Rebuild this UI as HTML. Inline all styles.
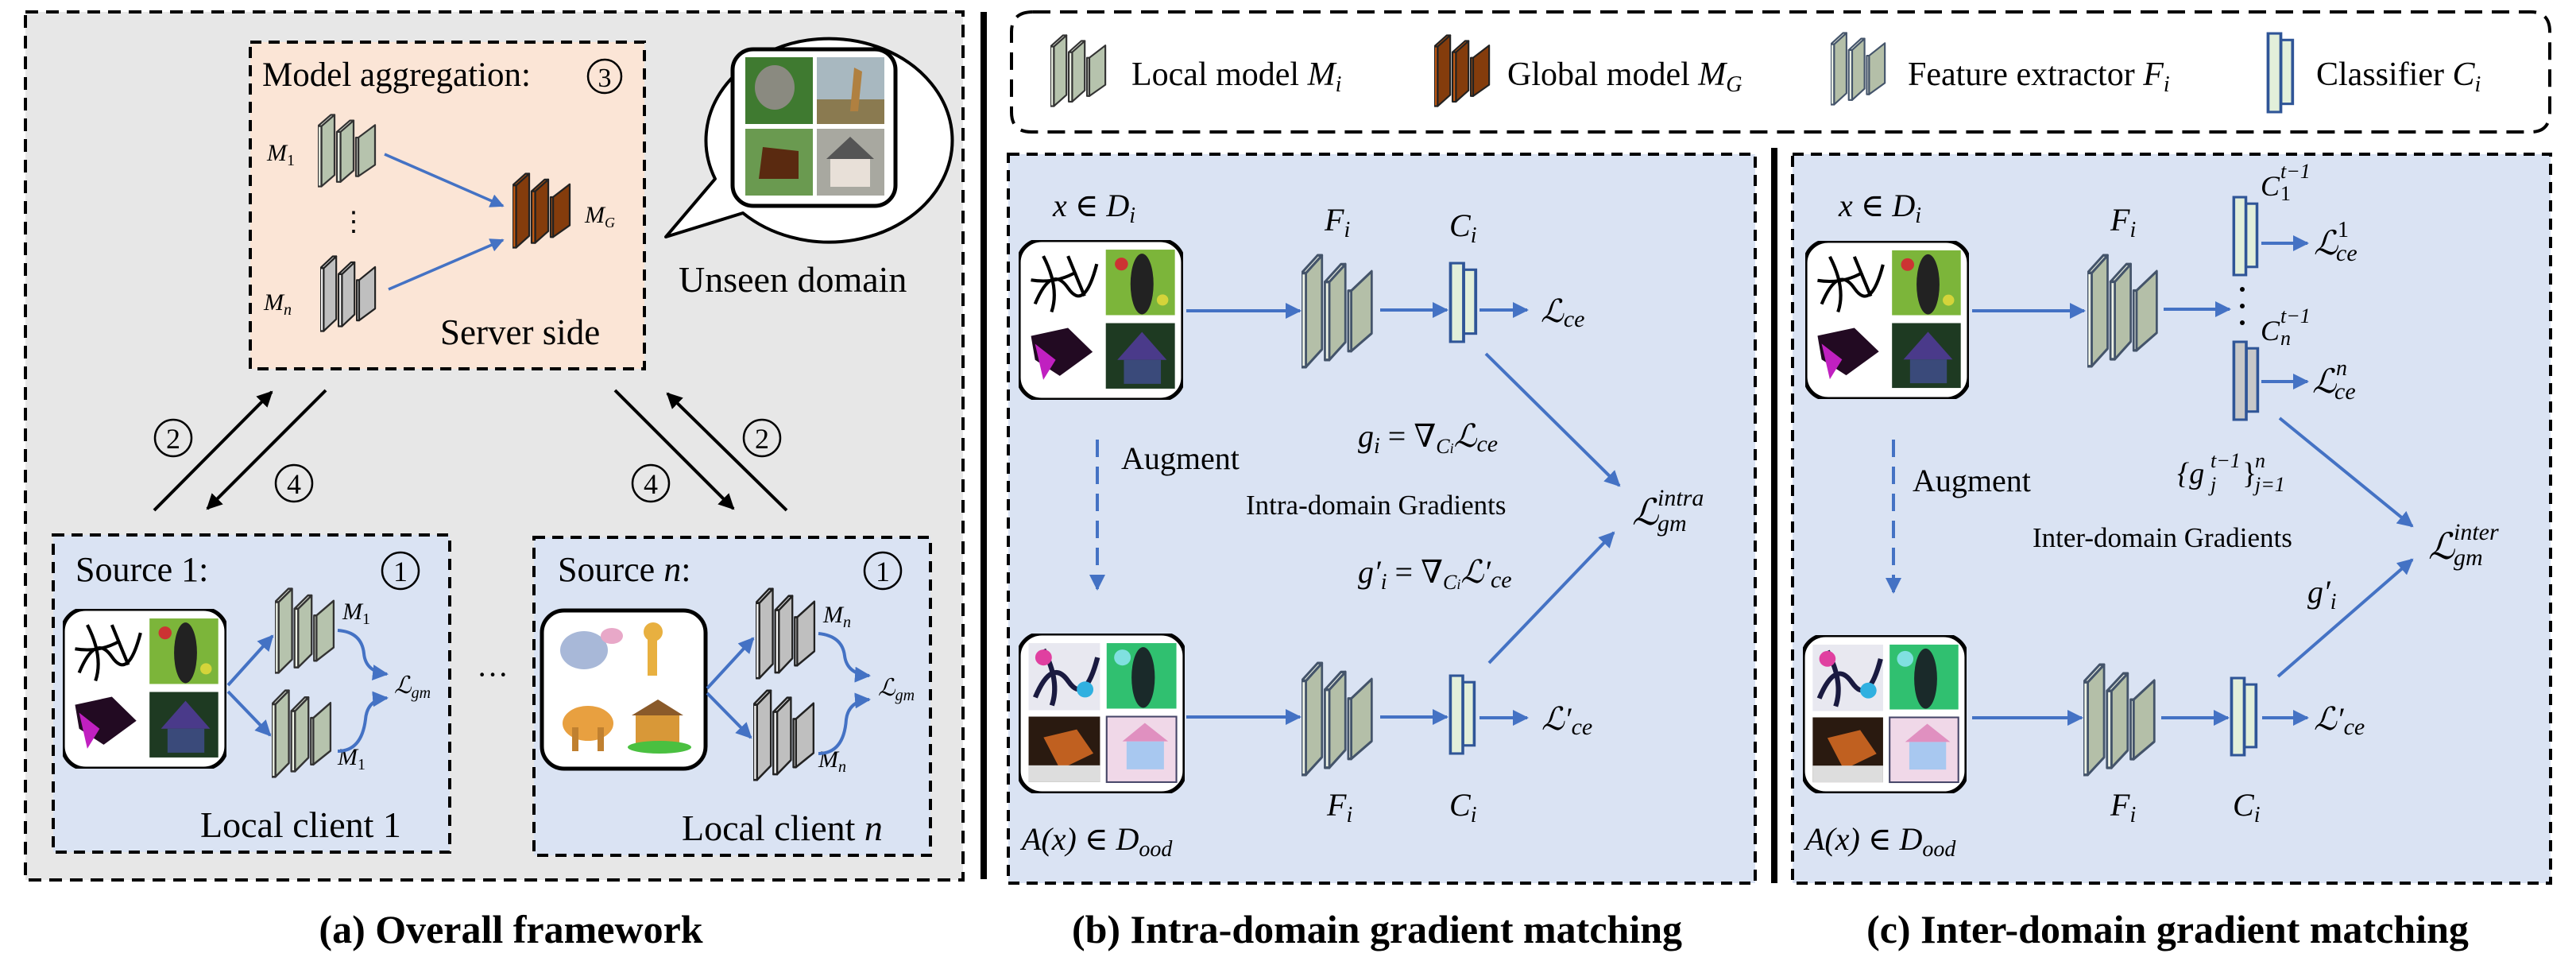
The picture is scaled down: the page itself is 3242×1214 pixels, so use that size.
<!DOCTYPE html>
<html><head><meta charset="utf-8"><style>
html,body{margin:0;padding:0;background:#fff}
svg{display:block}
text{font-family:"Liberation Serif","DejaVu Serif",serif;fill:#000}
.m{font-style:italic}
.t{font-weight:bold;font-size:50px}
</style></head><body>
<svg width="3242" height="1214" viewBox="0 0 3242 1214" xmlns="http://www.w3.org/2000/svg">
<defs>
<marker id="ab" viewBox="0 0 10 10" refX="9" refY="5" markerWidth="5" markerHeight="5" orient="auto" markerUnits="strokeWidth"><path d="M0,0L10,5L0,10z" fill="#4472c4"/></marker>
<marker id="ak" viewBox="0 0 10 10" refX="9" refY="5" markerWidth="5" markerHeight="5" orient="auto" markerUnits="strokeWidth"><path d="M0,0L10,5L0,10z" fill="#000"/></marker>
<symbol id="Lg" viewBox="0 0 100 130" preserveAspectRatio="none">
 <g stroke="#333" stroke-width="3" stroke-linejoin="round">
 <polygon points="6,22 28,2 28,108 6,128" fill="#b6c3ad"/><polygon points="0,22 22,2 28,2 6,22" fill="#eef3e6"/><rect x="0" y="22" width="6" height="106" fill="#eef3e6"/>
 <polygon points="38,32 60,12 60,100 38,120" fill="#b6c3ad"/><polygon points="32,32 54,12 60,12 38,32" fill="#eef3e6"/><rect x="32" y="32" width="6" height="88" fill="#eef3e6"/>
 <polygon points="68,42 96,20 96,90 68,110" fill="#b6c3ad"/><rect x="64" y="42" width="4" height="68" fill="#eef3e6"/>
 </g></symbol>
<symbol id="Lb" viewBox="0 0 100 130" preserveAspectRatio="none">
 <g stroke="#222" stroke-width="3" stroke-linejoin="round">
 <polygon points="6,22 28,2 28,108 6,128" fill="#843c0c"/><polygon points="0,22 22,2 28,2 6,22" fill="#c55a11"/><rect x="0" y="22" width="6" height="106" fill="#c55a11"/>
 <polygon points="38,32 60,12 60,100 38,120" fill="#843c0c"/><polygon points="32,32 54,12 60,12 38,32" fill="#c55a11"/><rect x="32" y="32" width="6" height="88" fill="#c55a11"/>
 <polygon points="68,42 96,20 96,90 68,110" fill="#843c0c"/><rect x="64" y="42" width="4" height="68" fill="#c55a11"/>
 </g></symbol>
<symbol id="Lw" viewBox="0 0 100 130" preserveAspectRatio="none">
 <g stroke="#222" stroke-width="3" stroke-linejoin="round">
 <polygon points="6,22 28,2 28,108 6,128" fill="#bfbfbf"/><polygon points="0,22 22,2 28,2 6,22" fill="#f4f4f4"/><rect x="0" y="22" width="6" height="106" fill="#f4f4f4"/>
 <polygon points="38,32 60,12 60,100 38,120" fill="#bfbfbf"/><polygon points="32,32 54,12 60,12 38,32" fill="#f4f4f4"/><rect x="32" y="32" width="6" height="88" fill="#f4f4f4"/>
 <polygon points="68,42 96,20 96,90 68,110" fill="#bfbfbf"/><rect x="64" y="42" width="4" height="68" fill="#f4f4f4"/>
 </g></symbol>
<symbol id="Lf" viewBox="0 0 100 130" preserveAspectRatio="none">
 <g stroke="#44546a" stroke-width="3" stroke-linejoin="round">
 <polygon points="6,22 28,2 28,108 6,128" fill="#b4bfa8"/><polygon points="0,22 22,2 28,2 6,22" fill="#eef3e6"/><rect x="0" y="22" width="6" height="106" fill="#eef3e6"/>
 <polygon points="38,32 60,12 60,100 38,120" fill="#b4bfa8"/><polygon points="32,32 54,12 60,12 38,32" fill="#eef3e6"/><rect x="32" y="32" width="6" height="88" fill="#eef3e6"/>
 <polygon points="68,42 96,20 96,90 68,110" fill="#b4bfa8"/><rect x="64" y="42" width="4" height="68" fill="#eef3e6"/>
 </g></symbol>
<symbol id="Cl" viewBox="0 0 30 100" preserveAspectRatio="none">
 <rect x="15" y="10" width="12" height="78" fill="#e2efda" stroke="#2f5597" stroke-width="3"/>
 <rect x="2" y="2" width="13" height="96" fill="#e2efda" stroke="#2f5597" stroke-width="3"/>
</symbol>
<symbol id="Cg" viewBox="0 0 30 100" preserveAspectRatio="none">
 <rect x="15" y="10" width="12" height="78" fill="#c8c8c8" stroke="#2f5597" stroke-width="3"/>
 <rect x="2" y="2" width="13" height="96" fill="#c8c8c8" stroke="#2f5597" stroke-width="3"/>
</symbol>
<symbol id="Qs" viewBox="0 0 200 200" preserveAspectRatio="none">
 <rect x="0" y="0" width="200" height="200" rx="28" fill="#fff" stroke="#000" stroke-width="5"/>
 <rect x="12" y="12" width="86" height="84" fill="#fff"/>
 <path d="M20,80 Q40,30 60,60 T95,30 M30,20 Q50,60 40,90 M60,20 L80,70 M15,50 Q45,55 70,40" stroke="#000" stroke-width="4" fill="none"/>
 <rect x="106" y="12" width="84" height="82" fill="#7cb53a"/><ellipse cx="150" cy="55" rx="14" ry="38" fill="#222"/><circle cx="125" cy="30" r="8" fill="#c33"/><circle cx="175" cy="75" r="7" fill="#d4d43a"/>
 <rect x="12" y="104" width="86" height="82" fill="#fff"/><path d="M15,120 L60,110 L90,140 L50,170 L20,150z" fill="#220a22"/><path d="M20,130 L45,150 L30,175z" fill="#c020c0"/>
 <rect x="106" y="104" width="84" height="82" fill="#1e3a22"/><polygon points="120,150 150,115 180,150" fill="#4a3a8a"/><rect x="128" y="150" width="45" height="30" fill="#3a4a7a"/>
</symbol>
<symbol id="Qa" viewBox="0 0 200 200" preserveAspectRatio="none">
 <rect x="0" y="0" width="200" height="200" rx="28" fill="#fff" stroke="#000" stroke-width="5"/>
 <rect x="12" y="12" width="86" height="84" fill="#e8e8f0"/>
 <path d="M20,80 Q40,30 60,60 T95,30 M30,20 Q50,60 40,90" stroke="#1a1a40" stroke-width="6" fill="none"/><circle cx="30" cy="30" r="10" fill="#e040a0"/><circle cx="80" cy="70" r="10" fill="#30b0e0"/>
 <rect x="106" y="12" width="84" height="82" fill="#30c070"/><ellipse cx="150" cy="55" rx="14" ry="38" fill="#1a2a2a"/><circle cx="125" cy="30" r="10" fill="#80e0e0"/>
 <rect x="12" y="104" width="86" height="82" fill="#2a1a10"/><path d="M30,130 L70,120 L90,150 L50,170z" fill="#c06020"/><rect x="12" y="165" width="86" height="21" fill="#ddd"/>
 <rect x="106" y="104" width="84" height="82" fill="#f0d8e8" stroke="#446" stroke-width="2"/><rect x="130" y="135" width="45" height="35" fill="#a8c8f0"/><polygon points="125,135 152,112 180,135" fill="#e090c0"/>
</symbol>
</defs>

<!-- PANEL A -->
<rect x="32" y="15" width="1180" height="1092" fill="#e7e7e7" stroke="#000" stroke-width="4" stroke-dasharray="16,10"/>
<line x1="1238" y1="15" x2="1238" y2="1106" stroke="#000" stroke-width="8"/>
<rect x="315" y="53" width="496" height="411" fill="#fbe5d6" stroke="#000" stroke-width="4" stroke-dasharray="14,9"/>
<text x="330" y="108" font-size="43">Model aggregation:</text>
<circle cx="761" cy="96" r="21" fill="none" stroke="#000" stroke-width="2.5"/><text x="761" y="109" font-size="34" text-anchor="middle">3</text>
<use href="#Lg" x="400" y="143" width="75" height="93"/>
<use href="#Lw" x="403" y="321" width="72" height="97"/>
<use href="#Lb" x="645" y="217" width="75" height="96"/>
<text x="336" y="202" font-size="30" class="m">M<tspan font-size="20" dy="6" font-style="normal">1</tspan></text>
<text x="332" y="390" font-size="30" class="m">M<tspan font-size="20" dy="6">n</tspan></text>
<text x="736" y="280" font-size="30" class="m">M<tspan font-size="18" dy="6">G</tspan></text>
<text x="445" y="290" font-size="34" text-anchor="middle">⋮</text>
<line x1="484" y1="194" x2="633" y2="259" stroke="#4472c4" stroke-width="3.5" marker-end="url(#ab)"/>
<line x1="489" y1="364" x2="633" y2="302" stroke="#4472c4" stroke-width="3.5" marker-end="url(#ab)"/>
<text x="554" y="433" font-size="45">Server side</text>
<path d="M900,225 A155,128 0 1 1 935,268 L838,298 Z" fill="#fff" stroke="#000" stroke-width="4" stroke-linejoin="round"/>
<rect x="922" y="62" width="205" height="197" rx="26" fill="#fff" stroke="#000" stroke-width="5"/>
<rect x="938" y="72" width="85" height="84" fill="#3f7a30"/><ellipse cx="975" cy="110" rx="25" ry="28" fill="#8a8a80"/>
<rect x="1028" y="72" width="85" height="84" fill="#a8b8c0"/><rect x="1028" y="125" width="85" height="31" fill="#8a7a50"/><path d="M1070,140 L1075,85 L1085,90 L1080,140" fill="#b08040"/>
<rect x="938" y="162" width="85" height="84" fill="#6a9a50"/><path d="M955,225 L960,185 L1005,190 L1005,225" fill="#5a2a10"/>
<rect x="1028" y="162" width="85" height="84" fill="#a8a8a0"/><polygon points="1040,200 1070,172 1100,200" fill="#555"/><rect x="1045" y="200" width="50" height="35" fill="#e8e0d8"/>
<text x="854" y="367" font-size="46">Unseen domain</text>
<g stroke="#000" stroke-width="4">
<line x1="194" y1="642" x2="342" y2="493" marker-end="url(#ak)"/>
<line x1="410" y1="491" x2="261" y2="640" marker-end="url(#ak)"/>
<line x1="774" y1="491" x2="923" y2="640" marker-end="url(#ak)"/>
<line x1="990" y1="642" x2="840" y2="495" marker-end="url(#ak)"/>
</g>
<g fill="none" stroke="#000" stroke-width="2.5">
<circle cx="218" cy="551" r="23"/><circle cx="370" cy="608" r="23"/><circle cx="819" cy="608" r="23"/><circle cx="959" cy="551" r="23"/>
</g>
<g font-size="36" text-anchor="middle"><text x="218" y="564">2</text><text x="370" y="621">4</text><text x="819" y="621">4</text><text x="959" y="564">2</text></g>
<rect x="67" y="673" width="499" height="399" fill="#dae3f3" stroke="#000" stroke-width="4" stroke-dasharray="14,9"/>
<text x="95" y="731" font-size="44">Source 1:</text>
<circle cx="504" cy="718" r="23" fill="none" stroke="#000" stroke-width="2.5"/><text x="504" y="731" font-size="36" text-anchor="middle">1</text>
<use href="#Qs" x="79" y="766" width="206" height="201"/>
<use href="#Lg" x="346" y="739" width="77" height="109"/>
<use href="#Lg" x="342" y="867" width="77" height="112"/>
<text x="431" y="779" font-size="30" class="m">M<tspan font-size="20" dy="6" font-style="normal">1</tspan></text>
<text x="425" y="962" font-size="30" class="m">M<tspan font-size="20" dy="6" font-style="normal">1</tspan></text>
<g stroke="#4472c4" stroke-width="4" fill="none">
<line x1="287" y1="862" x2="343" y2="800" marker-end="url(#ab)"/>
<line x1="287" y1="870" x2="340" y2="925" marker-end="url(#ab)"/>
<path d="M425,793 Q455,795 458,822 Q460,845 487,848" marker-end="url(#ab)"/>
<path d="M425,945 Q455,945 460,905 Q462,880 487,878" marker-end="url(#ab)"/>
</g>
<text x="496" y="872" font-size="30" class="m">ℒ<tspan font-size="20" dy="6">gm</tspan></text>
<text x="252" y="1053" font-size="46">Local client 1</text>
<text x="620" y="862" font-size="40" text-anchor="middle">···</text>
<rect x="672" y="676" width="499" height="400" fill="#dae3f3" stroke="#000" stroke-width="4" stroke-dasharray="14,9"/>
<text x="702" y="731" font-size="44">Source <tspan class="m">n</tspan>:</text>
<circle cx="1111" cy="718" r="23" fill="none" stroke="#000" stroke-width="2.5"/><text x="1111" y="731" font-size="36" text-anchor="middle">1</text>
<rect x="682" y="768" width="206" height="199" rx="28" fill="#fff" stroke="#000" stroke-width="5"/>
<ellipse cx="735" cy="818" rx="30" ry="24" fill="#a8b8d8"/><ellipse cx="770" cy="800" rx="14" ry="10" fill="#e8a8c8"/>
<rect x="815" y="795" width="12" height="55" fill="#e8b040"/><circle cx="822" cy="795" r="12" fill="#e8b040"/>
<ellipse cx="740" cy="910" rx="32" ry="22" fill="#e8a040"/><rect x="720" y="915" width="8" height="30" fill="#c08030"/><rect x="752" y="915" width="8" height="30" fill="#c08030"/>
<rect x="800" y="898" width="55" height="38" fill="#d89838"/><polygon points="795,900 828,880 860,900" fill="#8a5a2a"/><ellipse cx="830" cy="940" rx="40" ry="8" fill="#4ac040"/>
<use href="#Lw" x="951" y="739" width="77" height="116"/>
<use href="#Lw" x="948" y="867" width="79" height="116"/>
<text x="1036" y="783" font-size="30" class="m">M<tspan font-size="20" dy="6">n</tspan></text>
<text x="1030" y="965" font-size="30" class="m">M<tspan font-size="20" dy="6">n</tspan></text>
<g stroke="#4472c4" stroke-width="4" fill="none">
<line x1="890" y1="866" x2="948" y2="803" marker-end="url(#ab)"/>
<line x1="890" y1="872" x2="945" y2="928" marker-end="url(#ab)"/>
<path d="M1030,797 Q1060,800 1063,825 Q1066,848 1094,850" marker-end="url(#ab)"/>
<path d="M1030,948 Q1062,948 1065,905 Q1068,882 1094,880" marker-end="url(#ab)"/>
</g>
<text x="1105" y="875" font-size="30" class="m">ℒ<tspan font-size="20" dy="6">gm</tspan></text>
<text x="858" y="1057" font-size="46">Local client <tspan class="m">n</tspan></text>
<text x="643" y="1186" class="t" text-anchor="middle">(a) Overall framework</text>

<!-- LEGEND -->
<path d="M1300,15 L3185,15 Q3209,15 3209,40 L3209,141 Q3209,166 3185,166 L1298,166 Q1273,166 1273,141 L1273,40 Q1273,15 1300,15 Z" fill="#fff" stroke="#000" stroke-width="4" stroke-dasharray="22,12"/>
<use href="#Lg" x="1322" y="43" width="72" height="92"/>
<text x="1424" y="107" font-size="42">Local model <tspan class="m">M<tspan font-size="28" dy="8">i</tspan></tspan></text>
<use href="#Lb" x="1805" y="43" width="72" height="92"/>
<text x="1897" y="107" font-size="42">Global model <tspan class="m">M<tspan font-size="28" dy="8">G</tspan></tspan></text>
<use href="#Lf" x="2304" y="40" width="71" height="93"/>
<text x="2401" y="107" font-size="42">Feature extractor <tspan class="m">F<tspan font-size="28" dy="8">i</tspan></tspan></text>
<use href="#Cl" x="2852" y="40" width="37" height="103"/>
<text x="2915" y="107" font-size="42">Classifier <tspan class="m">C<tspan font-size="28" dy="8">i</tspan></tspan></text>

<!-- PANEL B -->
<rect x="1269" y="194" width="940" height="917" fill="#dae3f3" stroke="#000" stroke-width="4" stroke-dasharray="14,9"/>
<line x1="2233" y1="186" x2="2233" y2="1111" stroke="#000" stroke-width="8"/>
<text x="1325" y="272" font-size="40" class="m">x ∈ D<tspan font-size="28" dy="8">i</tspan></text>
<use href="#Qs" x="1282" y="302" width="207" height="201"/>
<use href="#Lf" x="1638" y="319" width="92" height="145"/>
<use href="#Cl" x="1823" y="329" width="38" height="103"/>
<text x="1667" y="290" font-size="40" class="m">F<tspan font-size="28" dy="8">i</tspan></text>
<text x="1824" y="297" font-size="40" class="m">C<tspan font-size="28" dy="8">i</tspan></text>
<g stroke="#4472c4" stroke-width="4" fill="none">
<line x1="1493" y1="391" x2="1636" y2="391" marker-end="url(#ab)"/>
<line x1="1737" y1="390" x2="1821" y2="390" marker-end="url(#ab)"/>
<line x1="1862" y1="390" x2="1922" y2="390" marker-end="url(#ab)"/>
<line x1="1870" y1="445" x2="2038" y2="611" marker-end="url(#ab)"/>
<line x1="1493" y1="902" x2="1636" y2="902" marker-end="url(#ab)"/>
<line x1="1737" y1="902" x2="1821" y2="902" marker-end="url(#ab)"/>
<line x1="1862" y1="903" x2="1922" y2="903" marker-end="url(#ab)"/>
<line x1="1874" y1="834" x2="2031" y2="670" marker-end="url(#ab)"/>
<line x1="1381" y1="553" x2="1381" y2="741" stroke-dasharray="22,12" marker-end="url(#ab)"/>
</g>
<text x="1939" y="405" font-size="40" class="m">ℒ<tspan font-size="30" dy="6">ce</tspan></text>
<text x="1709" y="562" font-size="40" class="m">g<tspan font-size="28" dy="8">i</tspan><tspan dy="-8" font-style="normal"> = ∇</tspan><tspan font-size="26" dy="8">C<tspan font-size="18">i</tspan></tspan><tspan dy="-8">ℒ</tspan><tspan font-size="30" dy="6">ce</tspan></text>
<text x="1411" y="590" font-size="40">Augment</text>
<text x="1568" y="647" font-size="35">Intra-domain Gradients</text>
<text x="2054" y="660" font-size="46" class="m">ℒ</text>
<text x="2086" y="636" font-size="30" class="m">intra</text>
<text x="2086" y="668" font-size="30" class="m">gm</text>
<text x="1709" y="733" font-size="40" class="m">g′<tspan font-size="28" dy="8">i</tspan><tspan dy="-8" font-style="normal"> = ∇</tspan><tspan font-size="26" dy="8">C<tspan font-size="18">i</tspan></tspan><tspan dy="-8">ℒ′</tspan><tspan font-size="30" dy="6">ce</tspan></text>
<use href="#Qa" x="1282" y="797" width="209" height="201"/>
<use href="#Lf" x="1638" y="832" width="92" height="145"/>
<use href="#Cl" x="1823" y="848" width="36" height="102"/>
<text x="1940" y="918" font-size="40" class="m">ℒ′<tspan font-size="30" dy="6">ce</tspan></text>
<text x="1670" y="1026" font-size="40" class="m">F<tspan font-size="28" dy="8">i</tspan></text>
<text x="1824" y="1026" font-size="40" class="m">C<tspan font-size="28" dy="8">i</tspan></text>
<text x="1286" y="1069" font-size="40" class="m">A(x) ∈ D<tspan font-size="28" dy="8">ood</tspan></text>
<text x="1733" y="1186" class="t" text-anchor="middle">(b) Intra-domain gradient matching</text>

<!-- PANEL C -->
<rect x="2256" y="194" width="954" height="917" fill="#dae3f3" stroke="#000" stroke-width="4" stroke-dasharray="14,9"/>
<text x="2314" y="272" font-size="40" class="m">x ∈ D<tspan font-size="28" dy="8">i</tspan></text>
<use href="#Qs" x="2272" y="303" width="206" height="199"/>
<use href="#Lf" x="2627" y="319" width="91" height="144"/>
<text x="2656" y="290" font-size="40" class="m">F<tspan font-size="28" dy="8">i</tspan></text>
<use href="#Cl" x="2809" y="246" width="35" height="102"/>
<use href="#Cg" x="2809" y="428" width="36" height="102"/>
<text x="2845" y="246" font-size="36" class="m">C</text><text x="2870" y="224" font-size="26" class="m">t−1</text><text x="2870" y="252" font-size="26">1</text>
<text x="2845" y="428" font-size="36" class="m">C</text><text x="2870" y="406" font-size="26" class="m">t−1</text><text x="2870" y="434" font-size="26" class="m">n</text>
<g fill="#000"><circle cx="2822" cy="364" r="3"/><circle cx="2822" cy="385" r="3"/><circle cx="2822" cy="406" r="3"/></g>
<g stroke="#4472c4" stroke-width="4" fill="none">
<line x1="2482" y1="391" x2="2623" y2="391" marker-end="url(#ab)"/>
<line x1="2723" y1="389" x2="2806" y2="389" marker-end="url(#ab)"/>
<line x1="2846" y1="306" x2="2904" y2="306" marker-end="url(#ab)"/>
<line x1="2846" y1="480" x2="2904" y2="480" marker-end="url(#ab)"/>
<line x1="2869" y1="526" x2="3036" y2="662" marker-end="url(#ab)"/>
<line x1="2482" y1="903" x2="2620" y2="903" marker-end="url(#ab)"/>
<line x1="2720" y1="903" x2="2804" y2="903" marker-end="url(#ab)"/>
<line x1="2847" y1="903" x2="2904" y2="903" marker-end="url(#ab)"/>
<line x1="2867" y1="851" x2="3036" y2="704" marker-end="url(#ab)"/>
<line x1="2383" y1="553" x2="2383" y2="745" stroke-dasharray="22,12" marker-end="url(#ab)"/>
</g>
<text x="2912" y="320" font-size="42" class="m">ℒ</text><text x="2942" y="298" font-size="28">1</text><text x="2940" y="328" font-size="30" class="m">ce</text>
<text x="2910" y="494" font-size="42" class="m">ℒ</text><text x="2940" y="472" font-size="28" class="m">n</text><text x="2938" y="502" font-size="30" class="m">ce</text>
<text x="2740" y="608" font-size="38" class="m">{g</text><text x="2782" y="588" font-size="26" class="m">t−1</text><text x="2782" y="618" font-size="26" class="m">j</text><text x="2822" y="608" font-size="38">}</text><text x="2838" y="588" font-size="26" class="m">n</text><text x="2838" y="618" font-size="26" class="m">j=1</text>
<text x="2407" y="618" font-size="40">Augment</text>
<text x="2558" y="688" font-size="35">Inter-domain Gradients</text>
<text x="3056" y="703" font-size="46" class="m">ℒ</text>
<text x="3088" y="679" font-size="30" class="m">inter</text>
<text x="3088" y="711" font-size="30" class="m">gm</text>
<text x="2904" y="758" font-size="40" class="m">g′<tspan font-size="28" dy="8">i</tspan></text>
<use href="#Qa" x="2269" y="799" width="206" height="199"/>
<use href="#Lf" x="2622" y="834" width="93" height="143"/>
<use href="#Cl" x="2806" y="851" width="37" height="101"/>
<text x="2912" y="918" font-size="40" class="m">ℒ′<tspan font-size="30" dy="6">ce</tspan></text>
<text x="2656" y="1026" font-size="40" class="m">F<tspan font-size="28" dy="8">i</tspan></text>
<text x="2810" y="1026" font-size="40" class="m">C<tspan font-size="28" dy="8">i</tspan></text>
<text x="2272" y="1069" font-size="40" class="m">A(x) ∈ D<tspan font-size="28" dy="8">ood</tspan></text>
<text x="2728" y="1186" class="t" text-anchor="middle">(c) Inter-domain gradient matching</text>
</svg>
</body></html>
